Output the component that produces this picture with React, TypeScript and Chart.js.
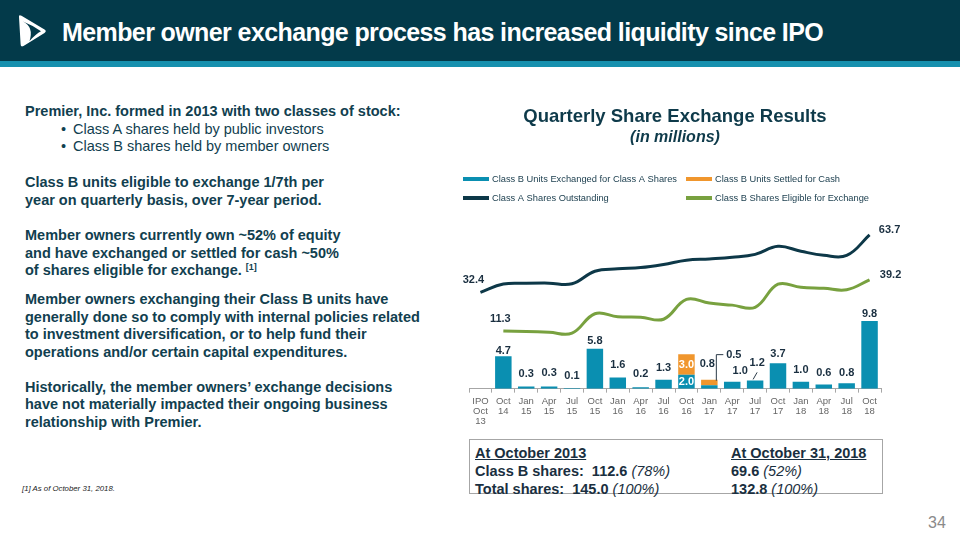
import React, { useEffect, useRef } from 'react';
import { Chart, registerables } from 'chart.js';

Chart.register(...registerables);

// ---------- data ----------
const quarterLabels: string[][] = [
  ['IPO', 'Oct', '13'], ['Oct', '14'], ['Jan', '15'], ['Apr', '15'], ['Jul', '15'], ['Oct', '15'],
  ['Jan', '16'], ['Apr', '16'], ['Jul', '16'], ['Oct', '16'], ['Jan', '17'], ['Apr', '17'],
  ['Jul', '17'], ['Oct', '17'], ['Jan', '18'], ['Apr', '18'], ['Jul', '18'], ['Oct', '18'],
];
const unitsExchanged = [null, 4.7, 0.3, 0.3, 0.1, 5.8, 1.6, 0.2, 1.3, 2.0, 0.5, 1.0, 1.2, 3.7, 1.0, 0.6, 0.8, 9.8];
const unitsSettledCash = [null, null, null, null, null, null, null, null, null, 3.0, 0.8, null, null, null, null, null, null, null];
const classAOutstanding = [32.4, 36.9, 37.3, 37.4, 37.1, 43.9, 45.2, 45.9, 47.6, 49.9, 50.6, 51.5, 53.1, 57.5, 54.8, 52.6, 52.5, 63.7];
const classBEligible = [null, 11.3, 11.0, 10.6, 10.1, 20.7, 19.1, 18.8, 17.7, 28.5, 26.5, 25.4, 24.2, 36.8, 35.1, 34.6, 33.8, 39.2];
const seriesNames = [
  'Class B Units Exchanged for Class A Shares',
  'Class B Units Settled for Cash',
  'Class A Shares Outstanding',
  'Class B Shares Eligible for Exchange',
];

// ---------- label styling (not data) ----------
const barLabelMode = ['none', 'above', 'above', 'above', 'above', 'above', 'above', 'above', 'above', 'inside', 'callout', 'above', 'leader', 'above', 'above', 'above', 'above', 'above'];
const barLabelGap = [0, 5, 13, 14, 12, 8, 13, 13, 12, 0, 16, 11, 17, 9, 12, 12, 10, 7];
const barLabelDx = [0, 0, 0, 0, 0, 0, 0, 0, 0, 0, -2, 8, 2, 0, 0, 0, 0, 0];

const FONT = '"Liberation Sans", Arial, Helvetica, sans-serif';
const BLUE = '#0a8fb1';
const ORANGE = '#f0962d';
const NAVY = '#0d3848';
const GREEN = '#78a13f';
const LABEL_DARK = '#1a2f40';
const TEXT_TEAL = '#11404f';

const seriesColors = [BLUE, ORANGE, NAVY, GREEN];

const labelPlugin = {
  id: 'customLabels',
  afterDatasetsDraw(chart: any) {
    const ctx = chart.ctx;
    const exMeta = chart.getDatasetMeta(0);
    const cashMeta = chart.getDatasetMeta(1);
    ctx.save();
    ctx.textAlign = 'center';
    ctx.textBaseline = 'middle';
    ctx.font = `bold 11px ${FONT}`;
    unitsExchanged.forEach((v, i) => {
      if (v == null) return;
      const bar = exMeta.data[i];
      const mode = barLabelMode[i];
      const cash = unitsSettledCash[i];
      if (mode === 'inside' && cash != null) {
        const c = cashMeta.data[i];
        ctx.fillStyle = '#ffffff';
        ctx.fillText(v.toFixed(1), bar.x, (bar.y + bar.base) / 2);
        ctx.fillText(cash.toFixed(1), c.x, (c.y + c.base) / 2);
      } else if (mode === 'callout' && cash != null) {
        const c = cashMeta.data[i];
        ctx.fillStyle = LABEL_DARK;
        ctx.fillText(cash.toFixed(1), c.x + barLabelDx[i], c.y - barLabelGap[i]);
        const topY = bar.base - 34;
        ctx.strokeStyle = '#2a3a48';
        ctx.lineWidth = 1;
        ctx.beginPath();
        ctx.moveTo(bar.x + 7, c.y + 1);
        ctx.lineTo(bar.x + 7, topY);
        ctx.lineTo(bar.x + 14, topY);
        ctx.stroke();
        ctx.fillText(v.toFixed(1), bar.x + 24.5, topY);
      } else if (mode === 'leader') {
        ctx.strokeStyle = '#2a3a48';
        ctx.lineWidth = 1;
        ctx.beginPath();
        ctx.moveTo(bar.x - 2, bar.y - 1);
        ctx.lineTo(bar.x + 2, bar.y - 8);
        ctx.stroke();
        ctx.fillStyle = LABEL_DARK;
        ctx.fillText(v.toFixed(1), bar.x + barLabelDx[i], bar.y - barLabelGap[i]);
      } else if (mode === 'above') {
        ctx.fillStyle = LABEL_DARK;
        ctx.fillText(v.toFixed(1), bar.x + barLabelDx[i], bar.y - barLabelGap[i]);
      }
    });

    // line end labels
    const aMeta = chart.getDatasetMeta(2);
    const bMeta = chart.getDatasetMeta(3);
    ctx.fillStyle = LABEL_DARK;
    ctx.font = `bold 11px ${FONT}`;
    const aFirst = aMeta.data[0];
    const aLast = aMeta.data[classAOutstanding.length - 1];
    ctx.fillText(classAOutstanding[0].toFixed(1), aFirst.x - 7, aFirst.y - 12);
    ctx.fillText(classAOutstanding[classAOutstanding.length - 1].toFixed(1), aLast.x + 20, aLast.y - 5);
    const bFirstIdx = classBEligible.findIndex((v) => v != null);
    const bFirst = bMeta.data[bFirstIdx];
    const bLast = bMeta.data[classBEligible.length - 1];
    ctx.fillText((classBEligible[bFirstIdx] as number).toFixed(1), bFirst.x - 3, bFirst.y - 12);
    ctx.fillText((classBEligible[classBEligible.length - 1] as number).toFixed(1), bLast.x + 21, bLast.y - 5);
    ctx.restore();
  },
  afterDraw(chart: any) {
    const ctx = chart.ctx;
    ctx.save();
    ctx.font = `9.3px ${FONT}`;
    ctx.textAlign = 'left';
    ctx.textBaseline = 'middle';
    const cols = [8, 231];
    const rows = [84, 103];
    seriesNames.forEach((name, k) => {
      const x = cols[k % 2];
      const y = rows[Math.floor(k / 2)];
      ctx.fillStyle = seriesColors[k];
      ctx.fillRect(x, y - 2, 26, 4);
      ctx.fillStyle = '#1e4050';
      ctx.fillText(name, x + 29, y);
    });
    ctx.restore();
  },
};

function ChartBox() {
  const ref = useRef<HTMLCanvasElement | null>(null);
  useEffect(() => {
    if (!ref.current) return;
    Chart.defaults.font.family = FONT;
    const chart = new Chart(ref.current, {
      type: 'bar',
      data: {
        labels: quarterLabels,
        datasets: [
          { type: 'bar', label: seriesNames[0], data: unitsExchanged, backgroundColor: BLUE, yAxisID: 'y', stack: 's', barPercentage: 0.72, categoryPercentage: 1, order: 3 } as any,
          { type: 'bar', label: seriesNames[1], data: unitsSettledCash, backgroundColor: ORANGE, yAxisID: 'y', stack: 's', barPercentage: 0.72, categoryPercentage: 1, order: 3 } as any,
          { type: 'line', label: seriesNames[2], data: classAOutstanding, borderColor: NAVY, borderWidth: 3, pointRadius: 0, tension: 0.4, yAxisID: 'y2', order: 1 } as any,
          { type: 'line', label: seriesNames[3], data: classBEligible, borderColor: GREEN, borderWidth: 3, pointRadius: 0, tension: 0.4, yAxisID: 'y2', order: 2 } as any,
        ],
      },
      options: {
        animation: false,
        responsive: true,
        maintainAspectRatio: false,
        layout: { padding: { left: 14, right: 29, top: 0, bottom: 5 } },
        plugins: {
          legend: { display: false },
          tooltip: { enabled: false },
          title: {
            display: true,
            text: 'Quarterly Share Exchange Results',
            color: '#0e3a4a',
            font: { size: 18.5, weight: 'bold', family: FONT, lineHeight: 1.2 },
            padding: { top: 11, bottom: 0 },
          },
          subtitle: {
            display: true,
            text: '(in millions)',
            color: '#0e3a4a',
            font: { size: 16, weight: 'bold', style: 'italic', family: FONT, lineHeight: 1.2 },
            padding: { top: 0, bottom: 67.6 },
          },
        },
        scales: {
          x: {
            stacked: true,
            grid: { display: true, drawOnChartArea: false, drawTicks: true, tickLength: 4, color: '#a6a6a6', offset: true },
            border: { display: true, color: '#a6a6a6', width: 1 },
            ticks: { color: '#666666', font: { size: 9.5, family: FONT, lineHeight: 1.1 }, padding: 3, maxRotation: 0, autoSkip: false },
          },
          y: { stacked: true, display: false, min: 0, max: 25.2 },
          y2: { display: false, min: -20.2, max: 74.6, position: 'right', grid: { display: false } },
        },
      },
      plugins: [labelPlugin],
    });
    return () => chart.destroy();
  }, []);
  return <canvas ref={ref} />;
}

const paraStyle: React.CSSProperties = {
  position: 'absolute',
  left: 25,
  fontSize: 14.5,
  lineHeight: '17.5px',
  fontWeight: 'bold',
  color: TEXT_TEAL,
  whiteSpace: 'nowrap',
};

export default function App() {
  return (
    <div style={{ position: 'fixed', left: 0, top: 0, width: 960, height: 540, background: '#ffffff', fontFamily: FONT, overflow: 'hidden' }}>
      <div style={{ position: 'absolute', left: 0, top: 0, width: 960, height: 61, background: '#033a4a' }} />
      <div style={{ position: 'absolute', left: 0, top: 61, width: 960, height: 6, background: '#1690ae' }} />
      <svg style={{ position: 'absolute', left: 0, top: 0 }} width={60} height={60} viewBox="0 0 60 60">
        <path d="M19 17 Q18.5 14.5 21.5 15.8 L44.5 29.5 Q47 31.2 44.5 33 L23.5 46 Q20.5 47.5 20.6 44 Z" fill="#ffffff" />
        <path d="M23 21.5 Q34 27 29.5 41 Q36 34 41 31.3 Q32 25 23 21.5 Z" fill="#033a4a" />
      </svg>
      <div style={{ position: 'absolute', left: 62, top: 17, lineHeight: '30px', fontSize: 25, fontWeight: 'bold', color: '#ffffff', letterSpacing: -0.6, whiteSpace: 'nowrap' }}>
        Member owner exchange process has increased liquidity since IPO
      </div>

      <div style={{ ...paraStyle, top: 103 }}>
        <div>Premier, Inc. formed in 2013 with two classes of stock:</div>
        <div style={{ fontWeight: 'normal' }}><span style={{ display: 'inline-block', width: 12, marginLeft: 36 }}>•</span>Class A shares held by public investors</div>
        <div style={{ fontWeight: 'normal' }}><span style={{ display: 'inline-block', width: 12, marginLeft: 36 }}>•</span>Class B shares held by member owners</div>
      </div>
      <div style={{ ...paraStyle, top: 174 }}>
        <div>Class B units eligible to exchange 1/7th per</div>
        <div>year on quarterly basis, over 7-year period.</div>
      </div>
      <div style={{ ...paraStyle, top: 227 }}>
        <div>Member owners currently own ~52% of equity</div>
        <div>and have exchanged or settled for cash ~50%</div>
        <div>of shares eligible for exchange. <sup style={{ fontSize: 9, verticalAlign: 'top', position: 'relative', top: -3 }}>[1]</sup></div>
      </div>
      <div style={{ ...paraStyle, top: 291 }}>
        <div>Member owners exchanging their Class B units have</div>
        <div>generally done so to comply with internal policies related</div>
        <div>to investment diversification, or to help fund their</div>
        <div>operations and/or certain capital expenditures.</div>
      </div>
      <div style={{ ...paraStyle, top: 378.5 }}>
        <div>Historically, the member owners’ exchange decisions</div>
        <div>have not materially impacted their ongoing business</div>
        <div>relationship with Premier.</div>
      </div>

      <div style={{ position: 'absolute', left: 22, top: 484, fontSize: 7.8, fontStyle: 'italic', color: '#222222', whiteSpace: 'nowrap' }}>
        [1] As of October 31, 2018.
      </div>
      <div style={{ position: 'absolute', left: 928, top: 514, fontSize: 16, color: '#8a8a8a' }}>34</div>

      <div style={{ position: 'absolute', left: 455, top: 95, width: 455, height: 340 }}>
        <ChartBox />
      </div>

      <div style={{ position: 'absolute', left: 469, top: 439, width: 414, height: 55, border: '1px solid #a6a6a6', boxSizing: 'border-box' }} />
      <div style={{ position: 'absolute', left: 475, top: 444, fontSize: 14.5, lineHeight: '18px', fontWeight: 'bold', color: LABEL_DARK, whiteSpace: 'pre' }}>
        <div style={{ textDecoration: 'underline' }}>At October 2013</div>
        <div>Class B shares:  112.6 <span style={{ fontStyle: 'italic', fontWeight: 'normal' }}>(78%)</span></div>
        <div>Total shares:  145.0 <span style={{ fontStyle: 'italic', fontWeight: 'normal' }}>(100%)</span></div>
      </div>
      <div style={{ position: 'absolute', left: 731, top: 444, fontSize: 14.5, lineHeight: '18px', fontWeight: 'bold', color: LABEL_DARK, whiteSpace: 'pre' }}>
        <div style={{ textDecoration: 'underline' }}>At October 31, 2018</div>
        <div>69.6 <span style={{ fontStyle: 'italic', fontWeight: 'normal' }}>(52%)</span></div>
        <div>132.8 <span style={{ fontStyle: 'italic', fontWeight: 'normal' }}>(100%)</span></div>
      </div>
    </div>
  );
}
